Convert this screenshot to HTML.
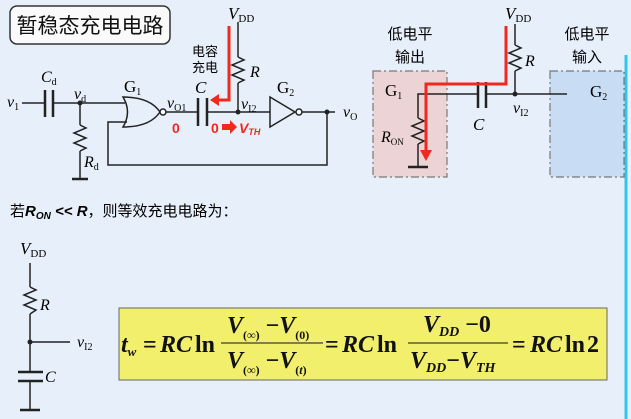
<!DOCTYPE html>
<html><head><meta charset="utf-8"><style>
html,body{margin:0;padding:0;background:#e7f0fa;}
svg{display:block;}
text{font-family:"Liberation Serif","Noto Serif CJK SC",serif;}
.cn{font-family:"Liberation Sans","Noto Sans CJK SC",sans-serif;}
.eq{font-family:"Liberation Serif",serif;font-weight:bold;font-style:italic;}
</style></head><body>
<svg width="631" height="419" viewBox="0 0 631 419" xmlns="http://www.w3.org/2000/svg">
<rect width="631" height="419" fill="#e7f0fa"/>
<line x1="626" y1="55" x2="626" y2="419" stroke="#33c4e8" stroke-width="3"/>
<rect x="10" y="6" width="160" height="38" rx="7" fill="#fafafa" stroke="#333" stroke-width="1.5"/>
<text x="90" y="33" class="cn" font-size="21" text-anchor="middle" fill="#111">暂稳态充电电路</text>

<g stroke="#222" stroke-width="1.5" fill="none">
<line x1="22" y1="103" x2="45" y2="103"/>
<line x1="45" y1="90" x2="45" y2="117" stroke-width="2.5"/>
<line x1="53" y1="90" x2="53" y2="117" stroke-width="2.5"/>
<line x1="53" y1="103" x2="125" y2="103"/>
<line x1="80" y1="103" x2="80" y2="125"/>
<polyline points="80,125 86,128 74,133 86,138 74,143 86,148 80,151"/>
<line x1="80" y1="151" x2="80" y2="178"/>
<line x1="72" y1="179" x2="88" y2="179" stroke-width="2.5"/>
<path d="M123,97 Q150,97 160,112 Q150,127 123,127 Q132,112 123,97 Z"/>
<circle cx="163" cy="112" r="3" fill="#fff"/>
<line x1="166" y1="112" x2="198" y2="112"/>
<line x1="198" y1="98" x2="198" y2="126" stroke-width="2.5"/>
<line x1="207" y1="98" x2="207" y2="126" stroke-width="2.5"/>
<line x1="207" y1="112" x2="270" y2="112"/>
<line x1="238" y1="22" x2="238" y2="57"/>
<polyline points="238,57 244,60 232,65 244,70 232,75 244,80 238,83"/>
<line x1="238" y1="83" x2="238" y2="112"/>
<path d="M270,97 L295,112 L270,127 Z"/>
<circle cx="299" cy="112" r="3" fill="#fff"/>
<line x1="302" y1="112" x2="335" y2="112"/>
<polyline points="327,112 327,165 108,165 108,122 127,122"/>
</g>
<circle cx="80" cy="103" r="2.5" fill="#222"/>
<circle cx="238" cy="112" r="2.5" fill="#222"/>
<circle cx="327" cy="112" r="2.5" fill="#222"/>
<polyline points="229,26 229,100 216,100" fill="none" stroke="#f0281e" stroke-width="3"/>
<polygon points="210,100 219,94 219,106" fill="#f0281e"/>
<text x="228" y="19" font-size="17" font-style="italic">V<tspan font-size="11" font-style="normal" dy="3">DD</tspan></text>
<text x="192" y="56" class="cn" font-size="13">电容</text>
<text x="192" y="72" class="cn" font-size="13">充电</text>
<text x="250" y="77" font-size="16" font-style="italic">R</text>
<text x="7" y="107" font-size="16" font-style="italic">v<tspan font-size="10" font-style="normal" dy="3">1</tspan></text>
<text x="41" y="82" font-size="16" font-style="italic">C<tspan font-size="10" font-style="normal" dy="3">d</tspan></text>
<text x="74" y="99" font-size="16" font-style="italic">v<tspan font-size="10" font-style="normal" dy="3">d</tspan></text>
<text x="84" y="167" font-size="16" font-style="italic">R<tspan font-size="10" font-style="normal" dy="3">d</tspan></text>
<text x="124" y="92" font-size="17">G<tspan font-size="10" dy="3">1</tspan></text>
<text x="167" y="108" font-size="16" font-style="italic">v<tspan font-size="10" font-style="normal" dy="3">O1</tspan></text>
<text x="195" y="93" font-size="17" font-style="italic">C</text>
<text x="241" y="109" font-size="16" font-style="italic">v<tspan font-size="10" font-style="normal" dy="3">I2</tspan></text>
<text x="277" y="93" font-size="17">G<tspan font-size="10" dy="3">2</tspan></text>
<text x="343" y="117" font-size="16" font-style="italic">v<tspan font-size="10" font-style="normal" dy="3">O</tspan></text>
<text x="172" y="133" class="cn" font-size="14" font-weight="bold" fill="#f0281e">0</text>
<text x="211" y="133" class="cn" font-size="14" font-weight="bold" fill="#f0281e">0</text>
<polygon points="222,124 230,124 230,120 237,127 230,134 230,130 222,130" fill="#f0281e"/>
<text x="239" y="133" class="cn" font-size="14" font-weight="bold" font-style="italic" fill="#f0281e">V<tspan font-size="9" dy="2">TH</tspan></text>

<text x="410" y="39" class="cn" font-size="15" text-anchor="middle">低电平</text>
<text x="410" y="62" class="cn" font-size="15" text-anchor="middle">输出</text>
<text x="587" y="39" class="cn" font-size="15" text-anchor="middle">低电平</text>
<text x="587" y="62" class="cn" font-size="15" text-anchor="middle">输入</text>
<rect x="373" y="71" width="74" height="106" fill="#ecd3d6" stroke="#777" stroke-width="1.2" stroke-dasharray="8,3,2,3"/>
<rect x="550" y="71" width="74" height="106" fill="#c8dcf4" stroke="#777" stroke-width="1.2" stroke-dasharray="8,3,2,3"/>
<g stroke="#222" stroke-width="1.5" fill="none">
<polyline points="418,118 418,94 478,94"/>
<line x1="478" y1="82" x2="478" y2="108" stroke-width="2.5"/>
<line x1="486" y1="82" x2="486" y2="108" stroke-width="2.5"/>
<line x1="486" y1="94" x2="567" y2="94"/>
<polyline points="418,118 424,121 412,126 424,131 412,136 424,141 418,144"/>
<line x1="418" y1="144" x2="418" y2="167"/>
<line x1="408" y1="167" x2="428" y2="167" stroke-width="2.5"/>
<line x1="515" y1="24" x2="515" y2="45"/>
<polyline points="515,45 521,48 509,53 521,58 509,63 521,68 515,71"/>
<line x1="515" y1="71" x2="515" y2="94"/>
</g>
<circle cx="515" cy="94" r="2.5" fill="#222"/>
<polyline points="506,26 506,84 426,84 426,152" fill="none" stroke="#f0281e" stroke-width="3"/>
<polygon points="426,161 420,150 432,150" fill="#f0281e"/>
<text x="505" y="19" font-size="17" font-style="italic">V<tspan font-size="11" font-style="normal" dy="3">DD</tspan></text>
<text x="525" y="66" font-size="16" font-style="italic">R</text>
<text x="385" y="96" font-size="17">G<tspan font-size="10" dy="3">1</tspan></text>
<text x="590" y="97" font-size="17">G<tspan font-size="10" dy="3">2</tspan></text>
<text x="513" y="113" font-size="16" font-style="italic">v<tspan font-size="10" font-style="normal" dy="3">I2</tspan></text>
<text x="473" y="130" font-size="17" font-style="italic">C</text>
<text x="381" y="142" font-size="16" font-style="italic">R<tspan font-size="9" font-style="normal" dy="3">ON</tspan></text>

<text x="10" y="216" class="cn" font-size="15">若<tspan font-weight="bold" font-style="italic">R<tspan font-size="10" dy="3">ON</tspan><tspan dy="-3"> &lt;&lt; R</tspan></tspan>，则等效充电电路为：</text>
<text x="20" y="254" font-size="17" font-style="italic">V<tspan font-size="11" font-style="normal" dy="3">DD</tspan></text>
<g stroke="#222" stroke-width="1.5" fill="none">
<line x1="30" y1="263" x2="30" y2="287"/>
<polyline points="30,287 36,290 24,295 36,300 24,305 36,310 30,314"/>
<line x1="30" y1="314" x2="30" y2="372"/>
<line x1="30" y1="342" x2="70" y2="342"/>
<line x1="18" y1="372" x2="43" y2="372" stroke-width="2.5"/>
<line x1="18" y1="381" x2="43" y2="381" stroke-width="2.5"/>
<line x1="30" y1="381" x2="30" y2="409"/>
<line x1="20" y1="410" x2="40" y2="410" stroke-width="2.5"/>
</g>
<circle cx="30" cy="342" r="2.5" fill="#222"/>
<text x="40" y="310" font-size="16" font-style="italic">R</text>
<text x="77" y="347" font-size="16" font-style="italic">v<tspan font-size="10" font-style="normal" dy="3">I2</tspan></text>
<text x="45" y="382" font-size="16" font-style="italic">C</text>

<rect x="119" y="308" width="488" height="72" fill="#f2ef6c" stroke="#666" stroke-width="1"/>
<g class="eq" font-size="24" fill="#111">
<text x="121" y="352">t<tspan font-size="13" dy="4">w</tspan></text>
<text x="143" y="352" font-style="normal">=</text>
<text x="160" y="352">RC<tspan font-style="normal" dx="3">ln</tspan></text>
<text x="227" y="333">V<tspan font-size="12" font-style="normal" dy="6">(∞)</tspan><tspan dy="-6" font-style="normal"> −</tspan>V<tspan font-size="12" font-style="normal" dy="6">(0)</tspan></text>
<line x1="221" y1="343" x2="323" y2="343" stroke="#111" stroke-width="1"/>
<text x="227" y="368">V<tspan font-size="12" font-style="normal" dy="6">(∞)</tspan><tspan dy="-6" font-style="normal"> −</tspan>V<tspan font-size="12" font-style="normal" dy="6">(<tspan font-style="italic">t</tspan>)</tspan></text>
<text x="325" y="352" font-style="normal">=</text>
<text x="342" y="352">RC<tspan font-style="normal" dx="3">ln</tspan></text>
<text x="423" y="332">V<tspan font-size="14" dy="4">DD</tspan><tspan dy="-4" font-style="normal"> −0</tspan></text>
<line x1="408" y1="343" x2="508" y2="343" stroke="#111" stroke-width="1"/>
<text x="410" y="368">V<tspan font-size="14" dy="4">DD</tspan><tspan dy="-4" font-style="normal">−</tspan>V<tspan font-size="14" dy="4">TH</tspan></text>
<text x="512" y="352" font-style="normal">=</text>
<text x="530" y="352">RC<tspan font-style="normal" dx="3">ln</tspan><tspan font-style="normal" dx="2">2</tspan></text>
</g>
</svg>
</body></html>
